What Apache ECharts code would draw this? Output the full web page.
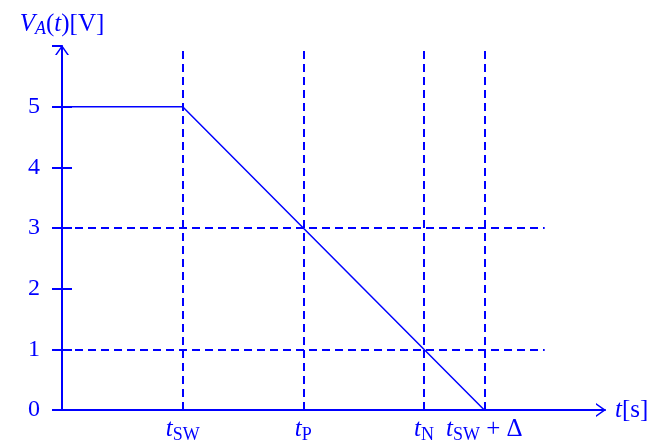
<!DOCTYPE html>
<html>
<head>
<meta charset="utf-8">
<script src="https://cdn.jsdelivr.net/npm/echarts@6/dist/echarts.min.js"></script>
<style>
  html, body { margin: 0; padding: 0; background: #fff; }
  #chart { width: 653px; height: 447px; }
</style>
</head>
<body>
<div id="chart"></div>
<script>
// signal: V_A(t) vs t
const curveT = [0, 1, 3.5];
const curveV = [5, 5, 0];
// dashed guides
const vGuides = [1, 2, 3, 3.5];
const hGuides = [3, 1];
const yTicks = [0, 1, 2, 3, 4, 5];
const xTickValues = [1, 2, 3, 3.5];
const xTickLabels = ["{t|t}{s|SW}", "{t|t}{s|P}", "{t|t}{s|N}", "{t|t}{s|SW}{r| + Δ}"];

const blue = "#0000FF";
const serif = "'Liberation Serif', 'DejaVu Serif', serif";
// open chevron pointing up
const arrow = "path://M0,10 L7,0 L14,10 L12.2,10 L7,2.6 L1.8,10 Z";

let chart = echarts.init(document.getElementById("chart"));

let richLabel = {
  t: { fontFamily: serif, fontStyle: "italic", fontSize: 25, color: blue },
  s: { fontFamily: serif, fontSize: 18, color: blue, padding: [11, 0, 0, 0] },
  r: { fontFamily: serif, fontSize: 25, color: blue },
};

let guideData = [];
vGuides.forEach((x) => {
  guideData.push([{ coord: [x, 0] }, { coord: [x, 6] }]);
});
hGuides.forEach((y) => {
  guideData.push([{ coord: [0, y] }, { coord: [4, y] }]);
});

let option = {
  animation: false,
  grid: { left: 62, right: 48, top: 46, bottom: 37 },
  xAxis: {
    type: "value",
    min: 0,
    max: 4.5,
    interval: 0.5,
    name: "{t|t}{r|[s]}",
    nameLocation: "end",
    nameGap: 10,
    nameTextStyle: { rich: richLabel, verticalAlign: "middle" },
    axisLine: {
      onZero: false,
      lineStyle: { color: blue, width: 2 },
      symbol: ["none", arrow],
      symbolSize: [14, 10],
      symbolOffset: [0, -4],
    },
    axisTick: { show: false },
    splitLine: { show: false },
    axisLabel: {
      customValues: xTickValues,
      margin: 5,
      rich: richLabel,
      formatter: (v) => {
        let i = xTickValues.indexOf(v);
        return i >= 0 ? xTickLabels[i] : "";
      },
    },
  },
  yAxis: [
    {
      type: "value",
      min: 0,
      max: 6,
      interval: 1,
      name: "{v|V}{a|A}{r|(}{t|t}{r|)[V]}",
      nameLocation: "end",
      nameGap: 8,
      nameTextStyle: {
        rich: {
          v: { fontFamily: serif, fontStyle: "italic", fontSize: 25, color: blue },
          a: { fontFamily: serif, fontStyle: "italic", fontSize: 18, color: blue, padding: [10, 0, 0, 0] },
          t: { fontFamily: serif, fontStyle: "italic", fontSize: 25, color: blue },
          r: { fontFamily: serif, fontSize: 25, color: blue },
        },
      },
      axisLine: {
        show: true,
        onZero: false,
        lineStyle: { color: blue, width: 2 },
        symbol: ["none", arrow],
        symbolSize: [14, 10],
        symbolOffset: [0, -4],
      },
      axisTick: { show: true, length: 10, lineStyle: { color: blue, width: 2 } },
      splitLine: { show: false },
      axisLabel: {
        margin: 22,
        color: blue,
        fontFamily: serif,
        fontSize: 24,
        formatter: (v) => (yTicks.indexOf(v) >= 0 ? String(v) : ""),
      },
    },
    {
      type: "value",
      min: 0,
      max: 6,
      interval: 1,
      position: "left",
      axisLine: { show: false },
      axisTick: {
        show: true,
        inside: true,
        length: 10,
        customValues: yTicks,
        lineStyle: { color: blue, width: 2 },
      },
      axisLabel: { show: false },
      splitLine: { show: false },
    },
  ],
  series: [
    {
      type: "line",
      data: curveT.map((t, i) => [t, curveV[i]]),
      showSymbol: false,
      lineStyle: { color: blue, width: 1.5 },
      markLine: {
        silent: true,
        symbol: "none",
        label: { show: false },
        lineStyle: { color: blue, width: 2, type: [8, 5] },
        data: guideData,
      },
    },
  ],
};

chart.setOption(option);
</script>
</body>
</html>
